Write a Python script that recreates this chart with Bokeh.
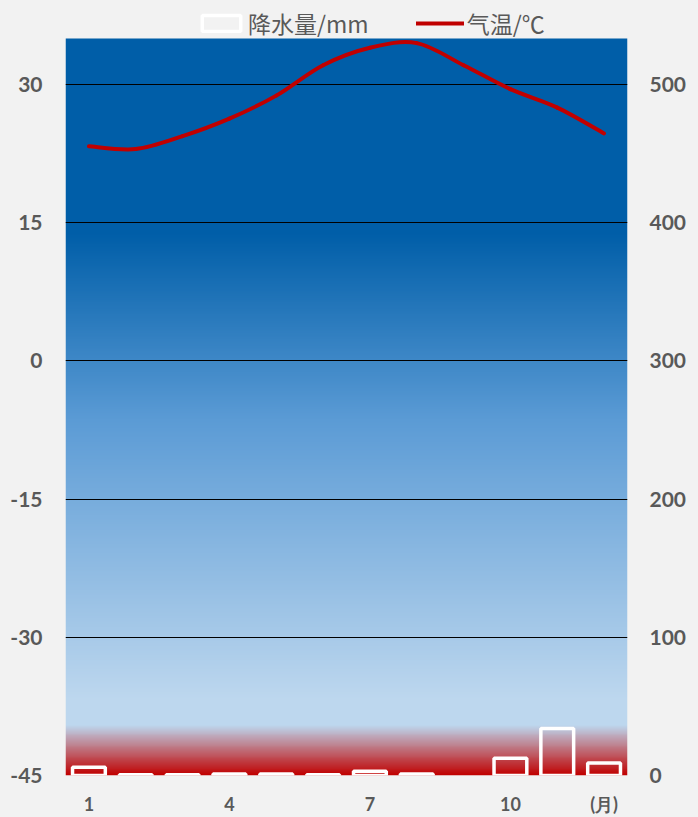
import numpy as np
from bokeh.plotting import figure
from bokeh.models import Range1d, LinearAxis, FixedTicker, Legend, LegendItem
from bokeh.embed import file_html
from bokeh.resources import INLINE

# ---------------- data ----------------
months = list(range(1, 13))
precipitation_mm = [6, 0.5, 0.5, 1, 1, 0.5, 3, 1, 0, 12.5, 34, 9]
temperature_c = [23.3, 23.0, 24.4, 26.3, 28.8, 32.1, 34.0, 34.5, 32.1, 29.5, 27.5, 24.7]
temp_ticks = [-45, -30, -15, 0, 15, 30]
precip_ticks = [0, 100, 200, 300, 400, 500]
month_ticks = [1, 4, 7, 10, 12]
month_tick_labels = ["1", "4", "7", "10", "(月)"]
series_labels = ["降水量/mm", "气温/℃"]

# ---------------- styles / layout ----------------
TEMP_MIN, TEMP_MAX = -45, 35          # visible temperature scale of the coloured area
PRECIP_PER_DEG = 100 / 15             # right axis: 100 mm per 15 degC
FIG_W, FIG_H = 698, 817
BORDER_L, BORDER_R, BORDER_B = 65, 71, 42
AREA_TOP_PX = 38                      # coloured area starts this far below the top
AREA_H_PX = FIG_H - BORDER_B - AREA_TOP_PX
Y_END = TEMP_MAX + AREA_TOP_PX * (TEMP_MAX - TEMP_MIN) / AREA_H_PX   # frame extends up to hold the legend
TEXT = "#595959"
BG = "#f2f2f2"
RED = "#c00000"
AX_FONT = "Lato"
LEG_FONT = "Noto Sans CJK SC"

p = figure(width=FIG_W, height=FIG_H, output_backend="svg", toolbar_location=None,
           x_range=Range1d(0.5, 12.5), y_range=Range1d(TEMP_MIN, Y_END),
           min_border_left=BORDER_L, min_border_right=BORDER_R, min_border_top=0,
           min_border_bottom=BORDER_B,
           background_fill_color=BG, border_fill_color=BG, outline_line_color=None)
p.extra_y_ranges = {"precip": Range1d(0, (Y_END - TEMP_MIN) * PRECIP_PER_DEG)}

# gradient background of the coloured area (decoration)
grad_v = [TEMP_MIN, -39.6, -36.7, -6.4, 13.9, TEMP_MAX]
grad_rgb = [(192, 0, 0), (189, 215, 238), (189, 215, 238), (91, 155, 213), (0, 94, 168), (0, 94, 168)]
rows = 800
vv = np.linspace(TEMP_MIN, TEMP_MAX, rows)
img = np.zeros((rows, 1), dtype=np.uint32)
view = img.view(dtype=np.uint8).reshape((rows, 1, 4))
for k in range(3):
    view[:, 0, k] = np.interp(vv, grad_v, [c[k] for c in grad_rgb]).round().astype(np.uint8)
view[:, 0, 3] = 255
p.image_rgba(image=[img], x=p.x_range.start, y=TEMP_MIN,
             dw=p.x_range.end - p.x_range.start, dh=TEMP_MAX - TEMP_MIN, level="image")

# grid
p.xgrid.visible = False
p.ygrid.ticker = FixedTicker(ticks=temp_ticks[1:])
p.ygrid.grid_line_color = "black"
p.ygrid.grid_line_width = 1

# precipitation bars (months with no rain draw nothing)
bar_x = [m for m, v in zip(months, precipitation_mm) if v > 0]
bar_top = [v for v in precipitation_mm if v > 0]
bars = p.vbar(x=bar_x, top=bar_top, bottom=0, width=0.7, y_range_name="precip",
              fill_color=None, line_color="white", line_width=3.5)

# smoothed temperature curve (Catmull-Rom -> cubic Bezier through the data points)
xs = np.array(months, dtype=float)
ys = np.array(temperature_c, dtype=float)
xpad = np.concatenate([[xs[0]], xs, [xs[-1]]])
ypad = np.concatenate([[ys[0]], ys, [ys[-1]]])
n = len(xs) - 1
x0 = xs[:-1]; y0 = ys[:-1]; x1 = xs[1:]; y1 = ys[1:]
cx0 = x0 + (xpad[2:n + 2] - xpad[0:n]) / 6
cy0 = y0 + (ypad[2:n + 2] - ypad[0:n]) / 6
cx1 = x1 - (xpad[3:n + 3] - xpad[1:n + 1]) / 6
cy1 = y1 - (ypad[3:n + 3] - ypad[1:n + 1]) / 6
curve = p.bezier(x0=x0, y0=y0, x1=x1, y1=y1, cx0=cx0, cy0=cy0, cx1=cx1, cy1=cy1,
                 line_color=RED, line_width=4, line_cap="round")

# axes
left = p.yaxis[0]
left.ticker = FixedTicker(ticks=temp_ticks)
left.major_label_overrides = {t: str(t) for t in temp_ticks}
right = LinearAxis(y_range_name="precip", ticker=FixedTicker(ticks=precip_ticks))
p.add_layout(right, "right")
bottom = p.xaxis[0]
bottom.ticker = FixedTicker(ticks=month_ticks)
bottom.major_label_overrides = dict(zip(month_ticks, month_tick_labels))

for a in (left, right, bottom):
    a.axis_line_color = None
    a.major_tick_line_color = None
    a.minor_tick_line_color = None
    a.major_tick_in = 0
    a.major_tick_out = 0
    a.minor_tick_in = 0
    a.minor_tick_out = 0
    a.major_label_text_color = TEXT
    a.major_label_text_font = AX_FONT
    a.major_label_text_font_style = "bold"
left.major_label_text_font_size = "21px"
right.major_label_text_font_size = "21px"
bottom.major_label_text_font_size = "18px"
left.major_label_standoff = 23
right.major_label_standoff = 22
bottom.major_label_standoff = 17

# legend (inside the extended frame, above the coloured area)
legend = Legend(items=[LegendItem(label=series_labels[0], renderers=[bars]),
                       LegendItem(label=series_labels[1], renderers=[curve])],
                orientation="horizontal", location=(132, AREA_H_PX - 2), padding=0, margin=0,
                border_line_color=None, background_fill_alpha=0,
                label_text_font=LEG_FONT, label_text_font_size="23px",
                label_text_color=TEXT, label_height=20, glyph_height=20, glyph_width=48,
                label_standoff=3, spacing=47)
p.add_layout(legend, "center")

template = """{% block postamble %}<style>html, body { background: #f2f2f2; }</style>{% endblock %}"""
open("out.html", "w").write(file_html(p, INLINE, title="chart", template=template))
